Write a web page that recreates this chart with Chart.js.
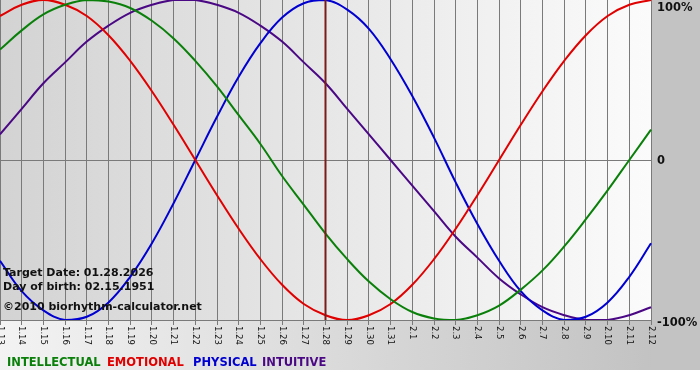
<!DOCTYPE html>
<html>
<head>
<meta charset="utf-8">
<script src="https://cdn.jsdelivr.net/npm/chart.js"></script>
<style>
    html, body { margin: 0; padding: 0; background: #fff; }
</style>
</head>
<body>
<canvas id="myChart" width="700" height="380"></canvas>
<script>
var dias = ['1.13', '1.14', '1.15', '1.16', '1.17', '1.18', '1.19', '1.20', '1.21', '1.22',
    '1.23', '1.24', '1.25', '1.26', '1.27', '1.28', '1.29', '1.30', '1.31', '2.1',
    '2.2', '2.3', '2.4', '2.5', '2.6', '2.7', '2.8', '2.9', '2.10', '2.11', '2.12']

var intelectual = [0.69, 0.81, 0.91, 0.97, 1.00, 0.99, 0.95, 0.87, 0.76, 0.62, 0.46, 0.28, 0.10, -0.10, -0.28, -0.46,
    -0.62, -0.76, -0.87, -0.95, -0.99, -1.00, -0.97, -0.91, -0.81, -0.69, -0.54, -0.37, -0.19, 0.00, 0.19]
var emocional = [0.90, 0.97, 1.00, 0.97, 0.90, 0.78, 0.62, 0.43, 0.22, 0.00, -0.22, -0.43, -0.62, -0.78, -0.90, -0.97,
    -1.00, -0.97, -0.90, -0.78, -0.62, -0.43, -0.22, 0.00, 0.22, 0.43, 0.62, 0.78, 0.90, 0.97, 1.00]
var fisico = [-0.63, -0.82, -0.94, -1.00, -0.98, -0.89, -0.73, -0.52, -0.27, 0.00, 0.27, 0.52, 0.73, 0.89, 0.98, 1.00,
    0.94, 0.82, 0.63, 0.40, 0.14, -0.14, -0.40, -0.63, -0.82, -0.94, -1.00, -0.98, -0.89, -0.73, -0.52]
var intuitivo = [0.16, 0.32, 0.48, 0.61, 0.74, 0.84, 0.92, 0.97, 1.00, 1.00, 0.97, 0.92, 0.84, 0.74, 0.61, 0.48,
    0.32, 0.16, 0.00, -0.16, -0.32, -0.48, -0.61, -0.74, -0.84, -0.92, -0.97, -1.00, -1.00, -0.97, -0.92]

var marcasY = [1, 0, -1]
var nomesMarcasY = ['100%', '0', '-100%']
var diaAlvo = '1.28'
var textos = ['Target Date: 01.28.2026', 'Day of birth: 02.15.1951', '\u00a92010 biorhythm-calculator.net']

var fonte = "Verdana, 'DejaVu Sans', sans-serif"

// desenha fundo, linha do dia e textos por cima do grafico
var desenhos = {
    id: 'desenhos',
    beforeDraw: function (chart) {
        var ctx = chart.ctx
        var area = chart.chartArea
        ctx.save()
        ctx.fillStyle = '#ffffff'
        ctx.fillRect(0, 0, chart.width, chart.height)

        var gBaixo = ctx.createLinearGradient(0, 0, chart.width, 0)
        gBaixo.addColorStop(0, '#f3f3f3')
        gBaixo.addColorStop(1, '#bfbfbf')
        ctx.fillStyle = gBaixo
        ctx.fillRect(0, area.bottom, chart.width, 50)

        ctx.fillStyle = '#c3c3c3'
        ctx.fillRect(area.right, 0, chart.width - area.right, area.bottom + 50)

        var gArea = ctx.createLinearGradient(area.left, 0, area.right, 0)
        gArea.addColorStop(0, '#d3d3d3')
        gArea.addColorStop(1, '#fbfbfb')
        ctx.fillStyle = gArea
        ctx.fillRect(area.left, area.top, area.right - area.left, area.bottom - area.top)
        ctx.restore()
    },
    afterDatasetsDraw: function (chart) {
        var ctx = chart.ctx
        var area = chart.chartArea
        var x = chart.scales.x.getPixelForValue(dias.indexOf(diaAlvo))
        ctx.save()
        ctx.strokeStyle = '#7d1a1a'
        ctx.lineWidth = 2
        ctx.beginPath()
        ctx.moveTo(x, area.top)
        ctx.lineTo(x, area.bottom)
        ctx.stroke()
        ctx.restore()
    },
    afterDraw: function (chart) {
        var ctx = chart.ctx
        var area = chart.chartArea
        var escalaX = chart.scales.x
        var escalaY = chart.scales.y
        ctx.save()

        // datas na vertical
        ctx.fillStyle = '#111'
        ctx.font = '8.5px ' + fonte
        ctx.textAlign = 'left'
        ctx.textBaseline = 'middle'
        dias.forEach(function (d, i) {
            var x = escalaX.getPixelForValue(i)
            ctx.save()
            ctx.translate(x, area.bottom + 6)
            ctx.rotate(Math.PI / 2)
            ctx.fillText(d, 0, 0)
            ctx.restore()
        })

        // porcentagens
        ctx.font = 'bold 11.5px ' + fonte
        ctx.textBaseline = 'middle'
        marcasY.forEach(function (v, i) {
            var y = escalaY.getPixelForValue(v)
            if (i == 0) y = y + 7
            if (i == 2) y = y + 2
            ctx.fillText(nomesMarcasY[i], area.right + 6, y + 1)
        })

        // textos da esquerda
        ctx.font = 'bold 11px ' + fonte
        ctx.textBaseline = 'alphabetic'
        ctx.fillText(textos[0], 3, 276)
        ctx.fillText(textos[1], 3, 290)
        ctx.fillText(textos[2], 3, 310)

        // legenda
        ctx.font = 'bold 11.5px ' + fonte
        var xs = [7, 107, 193, 262]
        chart.data.datasets.forEach(function (ds, i) {
            ctx.fillStyle = ds.borderColor
            ctx.fillText(ds.label, xs[i], 366)
        })
        ctx.restore()
    }
}

const ctx1 = document.getElementById('myChart').getContext('2d')

new Chart(ctx1, {
    type: 'line',
    data: {
        labels: dias,
        datasets: [
            { label: 'INTELLECTUAL', data: intelectual, borderColor: '#0a800a' },
            { label: 'EMOTIONAL', data: emocional, borderColor: '#e00000' },
            { label: 'PHYSICAL', data: fisico, borderColor: '#0000d0' },
            { label: 'INTUITIVE', data: intuitivo, borderColor: '#4b0885' }
        ]
    },
    options: {
        responsive: false,
        devicePixelRatio: 1,
        animation: false,
        layout: { padding: { left: 0, top: 0, right: 49, bottom: 55 } },
        elements: {
            point: { radius: 0 },
            line: { borderWidth: 2, tension: 0.4, fill: false }
        },
        plugins: {
            legend: { display: false },
            tooltip: { enabled: false }
        },
        scales: {
            x: {
                offset: false,
                ticks: { display: false },
                grid: { color: '#7a7a7a', drawTicks: true, tickLength: 5 },
                border: { color: '#7a7a7a' }
            },
            y: {
                position: 'right',
                min: -1,
                max: 1,
                ticks: { display: false, stepSize: 1 },
                grid: {
                    drawTicks: false,
                    color: function (c) {
                        return c.tick && c.tick.value == 1 ? 'rgba(0,0,0,0)' : '#7a7a7a'
                    }
                },
                border: { display: false }
            }
        }
    },
    plugins: [desenhos]
})
</script>
</body>
</html>
